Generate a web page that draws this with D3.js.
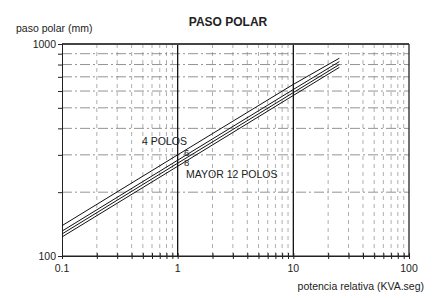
<!DOCTYPE html>
<html><head><meta charset="utf-8">
<script src="https://cdn.jsdelivr.net/npm/d3@7"></script>
<style>
body{margin:0;background:#fff;}
text{font-family:"Liberation Sans",Arial,Helvetica,sans-serif;fill:#222;}
</style></head>
<body><svg id="c" width="447" height="298"></svg>
<script>
const potencia = [0.1, 1, 10, 25];
const polos4 = [139, 300, 645, 857];
const polos6 = [131, 283, 610, 826];
const polos8 = [127, 274, 590, 800];
const polos12 = [123, 265, 572, 776];
const xTickLabels = [0.1, 1, 10, 100];
const yTickLabels = [100, 1000];
const seriesLabels = ["4 POLOS", "6", "8", "MAYOR 12 POLOS"];

const svg = d3.select("#c");
const m = {l:62, r:409, t:44, b:256};
const x = d3.scaleLog().domain([0.1,100]).range([m.l,m.r]);
const y = d3.scaleLog().domain([100,1000]).range([m.b,m.t]);

const xMinor = [], yMinor = [];
[0.1,1,10].forEach(d=>{for(let k=2;k<=9;k++) xMinor.push(+(d*k).toPrecision(3));});
for(let k=2;k<=9;k++) yMinor.push(k*100);

const g = svg.append("g");
g.selectAll(".vg").data(xMinor).join("line")
 .attr("x1",d=>x(d)).attr("x2",d=>x(d)).attr("y1",m.t).attr("y2",m.b)
 .attr("stroke","#999").attr("stroke-width",0.8).attr("stroke-dasharray","4,4");
g.selectAll(".hg").data(yMinor).join("line")
 .attr("x1",m.l).attr("x2",m.r).attr("y1",d=>y(d)).attr("y2",d=>y(d))
 .attr("stroke","#777").attr("stroke-width",0.8).attr("stroke-dasharray","10,3,2,3");
g.selectAll(".dg").data([1,10]).join("line")
 .attr("x1",d=>x(d)).attr("x2",d=>x(d)).attr("y1",m.t).attr("y2",m.b)
 .attr("stroke","#111").attr("stroke-width",1.3);
g.append("line").attr("x1",m.l).attr("x2",m.r).attr("y1",m.t).attr("y2",m.t).attr("stroke","#444").attr("stroke-width",1.8);
g.append("line").attr("x1",m.l).attr("x2",m.r).attr("y1",m.b).attr("y2",m.b).attr("stroke","#222").attr("stroke-width",1);
g.append("line").attr("x1",m.r).attr("x2",m.r).attr("y1",m.t).attr("y2",m.b).attr("stroke","#222").attr("stroke-width",1.3);

const xAxis = d3.axisBottom(x).tickValues(xMinor.concat([0.1,1,10,100])).tickSize(3).tickFormat("");
svg.append("g").attr("transform",`translate(0,${m.b})`).call(xAxis)
  .call(a=>a.select(".domain").attr("stroke","#222"))
  .call(a=>a.selectAll(".tick line").attr("stroke","#222").attr("y1",-3));
svg.append("g").attr("transform",`translate(0,${m.b+16})`)
 .selectAll("text").data(xTickLabels).join("text")
 .attr("x",d=>x(d)).attr("text-anchor","middle").attr("font-size",10.5).text(d=>d);

const yAxis = d3.axisLeft(y).tickValues(yMinor.concat([100,1000])).tickSize(4).tickFormat("");
svg.append("g").attr("transform",`translate(${m.l},0)`).call(yAxis)
  .call(a=>a.select(".domain").attr("stroke","#222"))
  .call(a=>a.selectAll(".tick line").attr("stroke","#222"));
svg.append("g").selectAll("text").data(yTickLabels).join("text")
 .attr("x",m.l-6).attr("y",d=>y(d)+4).attr("text-anchor","end").attr("font-size",10.5).text(d=>d);

const series = [polos4, polos6, polos8, polos12];
const line = d3.line().x((d,i)=>x(potencia[i])).y(d=>y(d));
svg.append("g").selectAll("path").data(series).join("path")
 .attr("d",d=>line(d)).attr("fill","none").attr("stroke","#111").attr("stroke-width",1);

const labPos = [[142,145,10.5],[184,156,9.5],[184,165.5,9.5],[186,178,10.5]];
svg.append("g").selectAll("text").data(seriesLabels).join("text")
 .attr("x",(d,i)=>labPos[i][0]).attr("y",(d,i)=>labPos[i][1]).attr("font-size",(d,i)=>labPos[i][2]).text(d=>d);

svg.append("text").attr("x",228).attr("y",26).attr("text-anchor","middle").attr("font-size",12).attr("font-weight","bold").text("PASO POLAR");
svg.append("text").attr("x",16).attr("y",32).attr("font-size",10.5).text("paso polar (mm)");
svg.append("text").attr("x",424).attr("y",290).attr("text-anchor","end").attr("font-size",10.5).text("potencia relativa (KVA.seg)");
</script></body></html>
